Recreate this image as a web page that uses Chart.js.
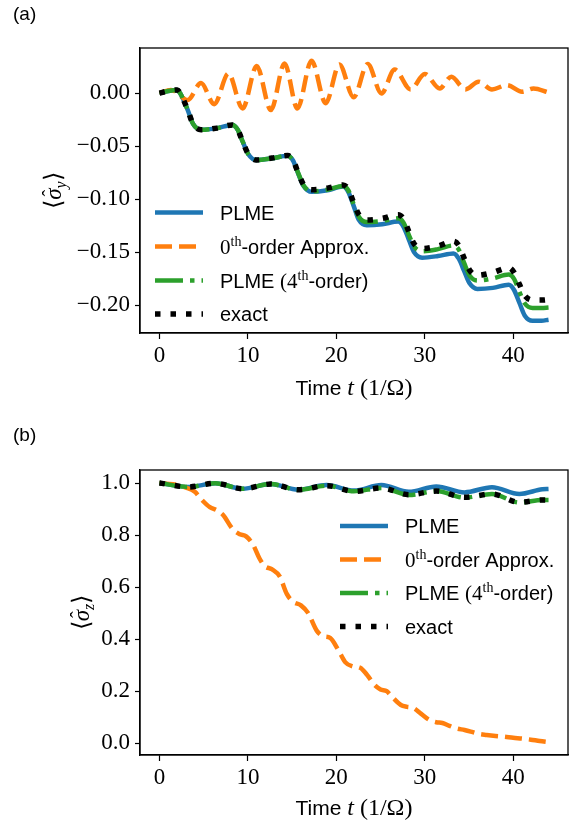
<!DOCTYPE html>
<html>

<head>
  <meta charset="utf-8">
  <title>PLME vs exact</title>
  <script src="https://cdn.jsdelivr.net/npm/chart.js@4.4.1/dist/chart.umd.min.js"></script>
  <style>
    html,
    body {
      margin: 0;
      padding: 0;
      background: #fff;
    }

    canvas {
      position: absolute;
      left: 0;
    }
  </style>
</head>

<body>
  <canvas id="chartA" width="572" height="410" style="top: 0;"></canvas>
  <canvas id="chartB" width="572" height="411" style="top: 410px;"></canvas>
  <script>
    // ---- panel (a): <sigma_y> ----
    // blue / green / black share one time grid
    var tStepA = [0, 1.0, 2.0, 2.4, 3.2, 3.8, 4.7, 6.5, 8.25, 8.85, 9.45, 10.05, 10.95, 12.7, 14.5,
      15.1, 15.7, 16.3, 17.2, 19.0, 20.75, 21.35, 21.95, 22.55, 23.45, 25.2, 27.0, 27.6, 28.2, 28.8,
      29.7, 31.5, 33.25, 33.85, 34.45, 35.05, 35.95, 37.7, 39.5, 40.1, 40.7, 41.3, 42.2, 43.2, 44.0];
    var plmeA = [0, 0.002, 0.003, -0.001, -0.016, -0.029, -0.0345, -0.033, -0.030, -0.0345, -0.0465,
      -0.0575, -0.063, -0.0615, -0.059, -0.0635, -0.076, -0.0875, -0.093, -0.0915, -0.088, -0.093,
      -0.106, -0.1195, -0.1245, -0.1235, -0.121, -0.126, -0.138, -0.150, -0.155, -0.1535, -0.151,
      -0.156, -0.1675, -0.179, -0.1845, -0.1835, -0.1805, -0.1855, -0.1975, -0.2095, -0.2145,
      -0.2145, -0.2135];
    var fourthA = [0, 0.002, 0.003, -0.001, -0.016, -0.029, -0.0345, -0.033, -0.030, -0.0345, -0.0465,
      -0.0575, -0.063, -0.0615, -0.059, -0.0635, -0.0755, -0.087, -0.0925, -0.091, -0.0875, -0.0915,
      -0.1045, -0.1165, -0.1215, -0.1205, -0.118, -0.122, -0.1335, -0.1445, -0.149, -0.147, -0.1435,
      -0.1475, -0.160, -0.1715, -0.1765, -0.1745, -0.171, -0.175, -0.187, -0.198, -0.2025,
      -0.2025, -0.202];
    var exactA = [0, 0.002, 0.003, -0.001, -0.016, -0.029, -0.0345, -0.033, -0.030, -0.0345, -0.0465,
      -0.0575, -0.063, -0.0612, -0.0588, -0.0632, -0.0752, -0.0862, -0.091, -0.0895, -0.0865, -0.0905,
      -0.103, -0.1145, -0.1195, -0.118, -0.1145, -0.1185, -0.1305, -0.142, -0.1465, -0.144, -0.1396,
      -0.1435, -0.1555, -0.1665, -0.1717, -0.169, -0.1645, -0.169, -0.180, -0.1905, -0.195,
      -0.195, -0.1945];
    // orange oscillation, turning points
    var tZeroA = [0, 1.3, 3.2, 4.7, 6.2, 7.8, 9.4, 11.0, 12.6, 14.15, 15.6, 17.2, 18.8, 20.35, 21.95,
      23.55, 25.1, 26.6, 28.4, 30.0, 31.7, 33.0, 34.6, 36.1, 37.6, 39.3, 41.0, 42.3, 44.0];
    var zeroA = [0, 0.003, -0.0065, 0.0095, -0.0105, 0.0185, -0.0145, 0.0255, -0.016, 0.028, -0.0145,
      0.0305, -0.0095, 0.027, -0.004, 0.0275, -0.0003, 0.0222, 0.0035, 0.018, 0.0044, 0.0154, 0.0035,
      0.0107, 0.0035, 0.0075, 0.0013, 0.0044, 0.0007];
    var yTicksA = [-0.20, -0.15, -0.10, -0.05, 0.00];
    var yLabelsA = ['\u22120.20', '\u22120.15', '\u22120.10', '\u22120.05', '0.00'];

    // ---- panel (b): <sigma_z> ----
    var tWigB = [0, 3.3, 6.3, 9.4, 12.6, 15.7, 18.9, 22.0, 25.1, 28.2, 31.3, 34.5, 37.6, 40.7, 43.3, 44.0];
    var plmeB = [1.0, 0.985, 0.999, 0.978, 0.996, 0.974, 0.992, 0.971, 0.992, 0.966, 0.987, 0.964,
      0.984, 0.958, 0.976, 0.977];
    var fourthB = [1.0, 0.985, 0.999, 0.978, 0.996, 0.974, 0.990, 0.968, 0.981, 0.954, 0.969, 0.944,
      0.958, 0.925, 0.935, 0.935];
    var exactB = [1.0, 0.985, 0.999, 0.978, 0.996, 0.974, 0.990, 0.968, 0.981, 0.955, 0.969, 0.945,
      0.958, 0.926, 0.935, 0.935];
    var tZeroB = [0, 1.5, 3.0, 4.0, 4.8, 5.7, 6.5, 7.2, 8.3, 9.1, 9.8, 10.6, 11.3, 11.9, 12.7, 13.6,
      14.4, 15.1, 16.0, 16.8, 17.8, 18.5, 19.3, 20.2, 21.0, 21.8, 22.7, 23.5, 24.3, 25.0, 25.7, 26.4,
      27.3, 28.0, 28.7, 29.6, 30.5, 31.3, 32.0, 32.8, 33.6, 34.5, 35.2, 36.0, 37.0, 38.0, 39.0, 40.0,
      41.0, 42.0, 43.0, 44.0];
    var zeroB = [1.0, 0.995, 0.982, 0.966, 0.935, 0.907, 0.895, 0.877, 0.822, 0.803, 0.795, 0.762,
      0.711, 0.681, 0.669, 0.641, 0.574, 0.544, 0.530, 0.501, 0.432, 0.412, 0.405, 0.360, 0.312,
      0.296, 0.290, 0.262, 0.225, 0.207, 0.200, 0.175, 0.147, 0.140, 0.136, 0.113, 0.090, 0.081,
      0.078, 0.067, 0.057, 0.051, 0.045, 0.037, 0.032, 0.028, 0.025, 0.021, 0.018, 0.014, 0.009, 0.005];
    var yTicksB = [0.0, 0.2, 0.4, 0.6, 0.8, 1.0];
    var yLabelsB = ['0.0', '0.2', '0.4', '0.6', '0.8', '1.0'];

    var xTicks = [0, 10, 20, 30, 40];
    var xLabels = ['0', '10', '20', '30', '40'];

    var SANS = '"Liberation Sans", Arial, sans-serif';
    var SERIF = '"Liberation Serif", "Times New Roman", serif';

    var legendRuns = [
      [{ text: 'PLME', font: '20px ' + SANS }],
      [{ text: '0', font: '21px ' + SERIF }, { text: 'th', font: '14px ' + SERIF, dy: -8 },
        { text: '-order Approx.', font: '20px ' + SANS }],
      [{ text: 'PLME ', font: '20px ' + SANS }, { text: '(4', font: '21px ' + SERIF },
        { text: 'th', font: '14px ' + SERIF, dy: -8 }, { text: '-order)', font: '20px ' + SANS }],
      [{ text: 'exact', font: '20px ' + SANS }]
    ];
    var xTitleRuns = [{ text: 'Time ', font: '21px ' + SANS }, { text: 't', font: 'italic 24px ' + SERIF },
      { text: ' (1/\u03A9)', font: '24px ' + SERIF }];

    function pts(ts, vs) {
      return ts.map(function(t, i) { return { x: t, y: vs[i] }; });
    }

    function drawRuns(ctx, runs, x, y, center) {
      var w = 0;
      runs.forEach(function(r) { ctx.font = r.font; w += ctx.measureText(r.text).width; });
      var cx = center ? x - w / 2 : x;
      runs.forEach(function(r) {
        ctx.font = r.font;
        var rw = ctx.measureText(r.text).width;
        ctx.fillText(r.text, cx, y + (r.dy || 0));
        if (r.hat) {
          ctx.font = '20px ' + SERIF;
          var hw = ctx.measureText('\u02C6').width;
          ctx.fillText('\u02C6', cx + rw / 2 - hw / 2 + 1, y - 4);
        }
        cx += rw;
      });
    }

    function decor(p) {
      return {
        id: 'decor',
        afterDraw: function(chart) {
          var ctx = chart.ctx, a = chart.chartArea;
          ctx.save();
          ctx.textAlign = 'left';
          ctx.textBaseline = 'alphabetic';
          ctx.strokeStyle = '#000';
          ctx.lineWidth = 1.3;
          ctx.strokeRect(a.left, a.top, a.right - a.left, a.bottom - a.top);
          ctx.fillStyle = '#000';
          drawRuns(ctx, [{ text: p.panel, font: '19px ' + SANS }], 13, p.panelY);
          drawRuns(ctx, xTitleRuns, (a.left + a.right) / 2, p.xTitleY, true);
          ctx.save();
          ctx.translate(p.yTitleX, (a.top + a.bottom) / 2);
          ctx.rotate(-Math.PI / 2);
          drawRuns(ctx, p.yTitle, 0, 0, true);
          ctx.restore();
          chart.data.datasets.forEach(function(ds, i) {
            var y = p.legY[i];
            ctx.save();
            ctx.strokeStyle = ds.borderColor;
            ctx.lineWidth = ds.borderWidth;
            ctx.setLineDash(ds.borderDash || []);
            ctx.beginPath();
            ctx.moveTo(p.legX, y);
            ctx.lineTo(p.legX + 48, y);
            ctx.stroke();
            ctx.restore();
            drawRuns(ctx, legendRuns[i], p.legX + 65, y + 7);
          });
          ctx.restore();
        }
      };
    }

    function datasets(tS, blue, tZ, orange, green, black) {
      var base = { pointRadius: 0, fill: false, cubicInterpolationMode: 'monotone', borderCapStyle: 'butt' };
      return [
        Object.assign({ label: 'PLME', data: pts(tS, blue), borderColor: '#1f77b4', borderWidth: 4.5, order: 4 }, base),
        Object.assign({ label: '0th-order Approx.', data: pts(tZ, orange), borderColor: '#ff7f0e', borderWidth: 4.5, borderDash: [17, 7], order: 3 }, base),
        Object.assign({ label: 'PLME (4th-order)', data: pts(tS, green), borderColor: '#2ca02c', borderWidth: 4.5, borderDash: [28, 7, 4.5, 7], order: 2 }, base),
        Object.assign({ label: 'exact', data: pts(tS, black), borderColor: '#000000', borderWidth: 5.5, borderDash: [5.5, 10], order: 1 }, base)
      ];
    }

    function options(yMin, yMax, yTicks, yLabels, padTop, xAxisH) {
      var tickGrid = { drawOnChartArea: false, drawTicks: true, tickLength: 6, tickWidth: 1.2, tickColor: '#000' };
      return {
        responsive: false,
        animation: false,
        layout: { padding: { top: padTop, right: 4, bottom: 0, left: 0 } },
        plugins: { legend: { display: false }, tooltip: { enabled: false } },
        scales: {
          x: {
            type: 'linear', min: -2.2, max: 46.2,
            afterBuildTicks: function(s) { s.ticks = xTicks.map(function(v) { return { value: v }; }); },
            afterFit: function(s) { s.height = xAxisH; },
            ticks: {
              callback: function(v, i) { return xLabels[i]; },
              font: { family: SERIF, size: 23 }, color: '#000', padding: 3, maxRotation: 0, autoSkip: false
            },
            grid: tickGrid,
            border: { display: true, color: '#000', width: 1.3 }
          },
          y: {
            type: 'linear', min: yMin, max: yMax,
            afterBuildTicks: function(s) { s.ticks = yTicks.map(function(v) { return { value: v }; }); },
            afterFit: function(s) { s.width = 140; },
            ticks: {
              callback: function(v, i) { return yLabels[i]; },
              font: { family: SERIF, size: 23 }, color: '#000', padding: 5, autoSkip: false
            },
            grid: Object.assign({}, tickGrid, { tickLength: 5 }),
            border: { display: true, color: '#000', width: 1.3 }
          }
        }
      };
    }

    window.chartA = new Chart(document.getElementById('chartA').getContext('2d'), {
      type: 'line',
      data: { datasets: datasets(tStepA, plmeA, tZeroA, zeroA, fourthA, exactA) },
      options: options(-0.226, 0.0425, yTicksA, yLabelsA, 48, 77),
      plugins: [decor({
        panel: '(a)', panelY: 20, xTitleY: 395, yTitleX: 61,
        yTitle: [{ text: '\u27E8', font: '24px ' + SERIF }, { text: '\u03C3', font: 'italic 23px ' + SERIF, hat: true },
          { text: 'y', font: 'italic 16px ' + SERIF, dy: 5 }, { text: '\u27E9', font: '24px ' + SERIF }],
        legX: 155, legY: [212.5, 246.5, 280.5, 314]
      })]
    });

    window.chartB = new Chart(document.getElementById('chartB').getContext('2d'), {
      type: 'line',
      data: { datasets: datasets(tWigB, plmeB, tZeroB, zeroB, fourthB, exactB) },
      options: options(-0.045, 1.05, yTicksB, yLabelsB, 60, 66),
      plugins: [decor({
        panel: '(b)', panelY: 31, xTitleY: 405, yTitleX: 89,
        yTitle: [{ text: '\u27E8', font: '24px ' + SERIF }, { text: '\u03C3', font: 'italic 23px ' + SERIF, hat: true },
          { text: 'z', font: 'italic 16px ' + SERIF, dy: 5 }, { text: '\u27E9', font: '24px ' + SERIF }],
        legX: 340, legY: [116, 149.5, 183, 216.5]
      })]
    });
  </script>
</body>

</html>
